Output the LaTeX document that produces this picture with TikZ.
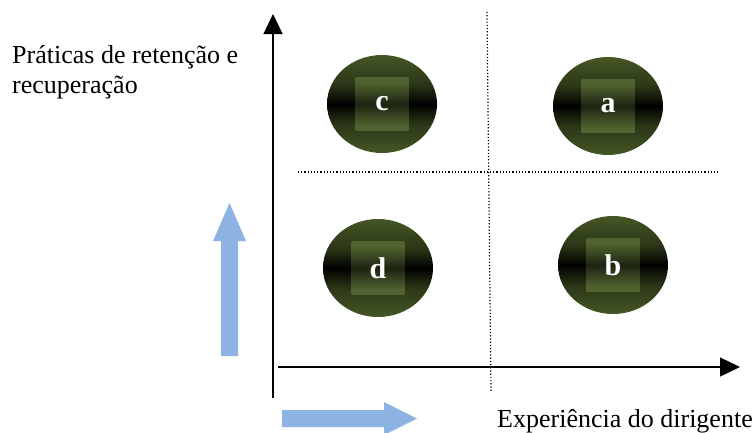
\documentclass[tikz,border=0pt]{standalone}
\usepackage{fontspec}
\setmainfont{Liberation Serif}
\usetikzlibrary{arrows.meta, shapes.geometric}

\definecolor{olivec}{RGB}{78,98,42}
\definecolor{squarec}{RGB}{86,106,52}
\definecolor{bluec}{RGB}{141,179,226}
\pgfdeclareverticalshading{blobshade}{100bp}{color(0bp)=(olivec); color(20bp)=(olivec);
    color(40bp)=(olivec!55!black); color(50bp)=(black); color(60bp)=(olivec!55!black);
    color(80bp)=(olivec); color(100bp)=(olivec)}
\pgfdeclareverticalshading{patchshade}{100bp}{color(0bp)=(squarec); color(30bp)=(squarec);
    color(50bp)=(squarec!40!black); color(70bp)=(squarec); color(100bp)=(squarec)}

\begin{document}
\begin{tikzpicture}[
    x=1pt, y=-1pt,
    axis/.style={line width=1.4pt, -{Triangle[length=20pt, width=19pt]}},
    guide/.style={line width=1.2pt, dotted},
    blob/.style={ellipse, minimum width=110pt, minimum height=98pt, inner sep=0pt,
                 shading=blobshade},
    patch/.style={rectangle, minimum size=53pt, inner sep=0pt, fill opacity=0.85,
                  shading=patchshade},
    letter/.style={text=white, font=\fontsize{30}{30}\selectfont\bfseries},
    bluearr/.style={fill=bluec},
    label/.style={font=\fontsize{26}{30}\selectfont, align=left, inner sep=0pt},
]
\useasboundingbox (0,0) rectangle (754,432);

% ── Axes ──
\coordinate (origin-y) at (273,398);
\coordinate (top-y) at (273,14);
\coordinate (origin-x) at (278,367);
\coordinate (end-x) at (740,367);
\draw[axis] (origin-y) -- (top-y);
\draw[axis] (origin-x) -- (end-x);

% ── Quadrant guides ──
\coordinate (vtop) at (487,12);
\coordinate (vbot) at (491,392);
\coordinate (hleft) at (298,172);
\coordinate (hright) at (718,172);
\draw[guide] (vtop) -- (vbot);
\draw[guide] (hleft) -- (hright);

% ── Quadrants ──
\node[blob] (qc) at (382,104) {};
\node[blob] (qa) at (608,106) {};
\node[blob] (qd) at (378,268) {};
\node[blob] (qb) at (613,265) {};
\foreach \q/\t in {qc/c, qa/a, qd/d, qb/b} {
    \node[patch] (\q-sq) at (\q.center) {};
    \node[letter] (\q-txt) at (\q.center) {\t};
}

% ── Blue direction arrows ──
\fill[bluearr] (221,356) -- (238,356) -- (238,241) -- (246,241) -- (229.5,203)
    -- (213,241) -- (221,241) -- cycle;
\fill[bluearr] (282,410) -- (384,410) -- (384,402) -- (417,418.5) -- (384,435)
    -- (384,427) -- (282,427) -- cycle;

% ── Axis labels ──
\node[label, anchor=base west] (ylabel) at (12,93) {Práticas de retenção e\\recuperação};
\node[label, anchor=base west] (xlabel) at (497,427) {Experiência do dirigente};

\end{tikzpicture}
\end{document}
